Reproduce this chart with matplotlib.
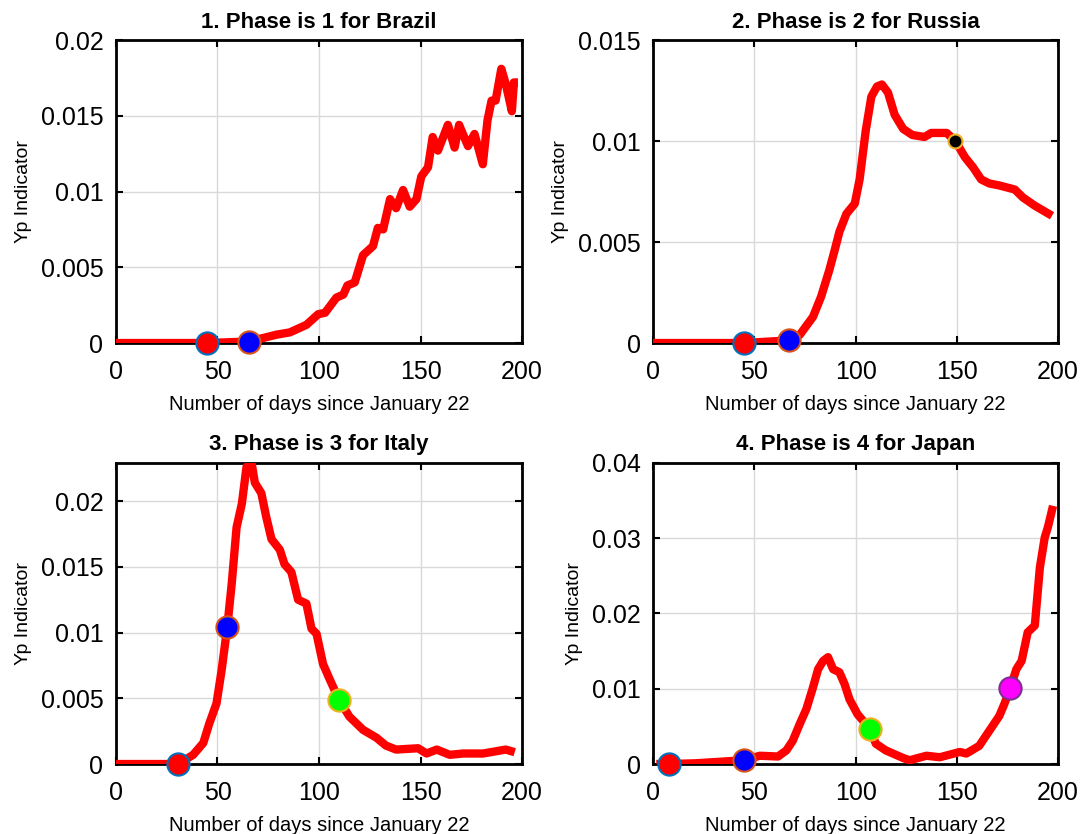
import matplotlib
matplotlib.use('Agg')
from matplotlib import pyplot as plt
from matplotlib.ticker import FuncFormatter

plt.rcParams['font.family'] = ['Liberation Sans', 'DejaVu Sans']

# Brazil
brazil_days = [0, 20, 44.6, 65.6, 79, 85.6, 93.8, 99.6, 103, 108.6, 112, 114, 117.6, 121.7, 126.6,
               129, 131.6, 135, 138, 141.4, 144.7, 148, 150.4, 153.7, 156, 158.6, 163.5, 166.8,
               169, 173.4, 176.6, 180.7, 183, 185, 187, 189.8, 192, 195, 196, 198]
brazil_vals = [0, 0, 0, 0.0001, 0.00055, 0.0007, 0.0012, 0.0019, 0.002, 0.003, 0.0032, 0.0038, 0.004,
               0.0058, 0.0064, 0.0076, 0.0075, 0.0095, 0.0089, 0.0101, 0.009, 0.0095, 0.011, 0.0116,
               0.0136, 0.0127, 0.0144, 0.0129, 0.0144, 0.013, 0.0138, 0.0118, 0.0147, 0.016, 0.016,
               0.0181, 0.0171, 0.0153, 0.0172, 0.0172]

# Russia
russia_days = [0, 20, 45, 67, 72.4, 79, 83, 87, 89.7, 92, 95.5, 99.6, 102, 105, 107.8, 110.6, 113, 116,
               119.3, 123.5, 128, 134, 137.4, 145, 149.3, 154, 158, 162, 166, 171, 178.6, 182.7,
               188.5, 197]
russia_vals = [0, 0, 0, 0.00013, 0.0004, 0.0013, 0.0023, 0.0036, 0.0046, 0.0055, 0.0064, 0.0069, 0.0081,
               0.0105, 0.0122, 0.0127, 0.0128, 0.0124, 0.0113, 0.0106, 0.0103, 0.0102, 0.0104,
               0.0104, 0.0100, 0.0092, 0.0087, 0.0081, 0.0079, 0.0078, 0.0076, 0.0072, 0.0068, 0.0063]

# Italy
italy_days = [0, 20, 30.7, 38, 43, 46, 49.5, 52, 54.8, 57, 59.4, 62, 64.3, 66.8, 68.4, 71.6, 74, 76.6,
              80.7, 83, 86.4, 89.7, 93.8, 96.3, 98.8, 102, 105.4, 109.8, 115, 121.7, 128.3, 133,
              138, 148.8, 153, 158, 164.4, 171, 180.8, 192, 196.4]
italy_vals = [0, 0, 0, 0.0007, 0.0016, 0.0031, 0.0046, 0.0071, 0.0104, 0.0137, 0.018, 0.0198, 0.0226,
              0.0229, 0.0214, 0.0206, 0.0188, 0.0171, 0.0163, 0.0152, 0.0146, 0.0125, 0.0122, 0.0103,
              0.0099, 0.0076, 0.0064, 0.0049, 0.0036, 0.0026, 0.002, 0.0014, 0.0011, 0.0012, 0.0008,
              0.0011, 0.0007, 0.0008, 0.0008, 0.0011, 0.0009]

# Japan
japan_days = [1.6, 7.7, 21, 45, 52.7, 61.7, 65.8, 69, 72.4, 75.7, 79, 81.5, 84, 86.4, 88.9, 92, 94.6,
              97, 101, 107, 110, 115, 123.5, 126.7, 135, 141.6, 151.4, 154.7, 161, 166, 171, 173.5,
              176.4, 179.4, 182, 185, 188.5, 191, 193.4, 195, 197.5]
japan_vals = [0, 0, 0.0001, 0.0005, 0.0011, 0.001, 0.0018, 0.0031, 0.0053, 0.0073, 0.0102, 0.0126,
              0.0137, 0.0142, 0.0126, 0.0122, 0.0106, 0.0086, 0.0066, 0.0047, 0.0027, 0.0018, 0.0008,
              0.0005, 0.0011, 0.0009, 0.0016, 0.0014, 0.0024, 0.0044, 0.0064, 0.008, 0.0101, 0.0126,
              0.0137, 0.0175, 0.0184, 0.0261, 0.0301, 0.0315, 0.0343]

# phase markers: (day, value, face, edge, size)
brazil_marks = [(44.6, 0, 'red', '#0072BD', 16), (65.6, 0.0001, 'blue', '#D95319', 16)]
russia_marks = [(45, 0, 'red', '#0072BD', 16), (67, 0.00013, 'blue', '#D95319', 16),
                (149.3, 0.0100, 'black', '#EDB120', 10)]
italy_marks = [(30.7, 0, 'red', '#0072BD', 16), (54.8, 0.0104, 'blue', '#D95319', 16),
               (109.8, 0.0049, '#00FF00', '#EDB120', 16)]
japan_marks = [(7.7, 0, 'red', '#0072BD', 16), (45, 0.0005, 'blue', '#D95319', 16),
               (107, 0.0047, '#00FF00', '#EDB120', 16), (176.4, 0.0101, 'magenta', '#7E2F8E', 16)]

titles = ['1. Phase is 1 for Brazil', '2. Phase is 2 for Russia',
          '3. Phase is 3 for Italy', '4. Phase is 4 for Japan']
ylims = [(0, 0.02), (0, 0.015), (0, 0.0229), (0, 0.04)]
yticks = [[0, 0.005, 0.01, 0.015, 0.02], [0, 0.005, 0.01, 0.015],
          [0, 0.005, 0.01, 0.015, 0.02], [0, 0.01, 0.02, 0.03, 0.04]]

series = [(brazil_days, brazil_vals, brazil_marks), (russia_days, russia_vals, russia_marks),
          (italy_days, italy_vals, italy_marks), (japan_days, japan_vals, japan_marks)]

positions = [[0.1071, 0.5887, 0.3749, 0.3633], [0.603, 0.5887, 0.374, 0.3633],
             [0.1071, 0.0839, 0.3749, 0.361], [0.603, 0.0839, 0.374, 0.361]]

fig = plt.figure(figsize=(10.83, 8.34), dpi=100)

fmt = FuncFormatter(lambda v, p: '%g' % round(v, 6))

for i in range(4):
    ax = fig.add_axes(positions[i])
    days, vals, marks = series[i]
    ax.plot(days, vals, color='red', linewidth=6, solid_capstyle='butt', zorder=3)
    for d, v, fc, ec, ms in marks:
        ax.plot(d, v, 'o', markerfacecolor=fc, markeredgecolor=ec, markeredgewidth=1.5,
                markersize=ms, zorder=4, clip_on=False)
    ax.set_xlim(0, 200)
    ax.set_ylim(*ylims[i])
    ax.set_xticks([0, 50, 100, 150, 200])
    ax.set_yticks(yticks[i])
    ax.yaxis.set_major_formatter(fmt)
    ax.grid(True, color='#d9d9d9', linewidth=1)
    ax.set_axisbelow(True)
    ax.tick_params(direction='in', top=True, right=True, labelsize=18, length=5, width=1.5)
    ax.tick_params(axis='x', pad=12)
    ax.tick_params(axis='y', pad=9)
    for s in ax.spines.values():
        s.set_linewidth(2)
    ax.set_title(titles[i], fontsize=16, fontweight='bold', pad=9)
    ax.set_xlabel('Number of days since January 22', fontsize=14.5, labelpad=8)
    ax.set_ylabel('Yp Indicator', fontsize=14, labelpad=6)

plt.savefig('out.png', dpi=100)
